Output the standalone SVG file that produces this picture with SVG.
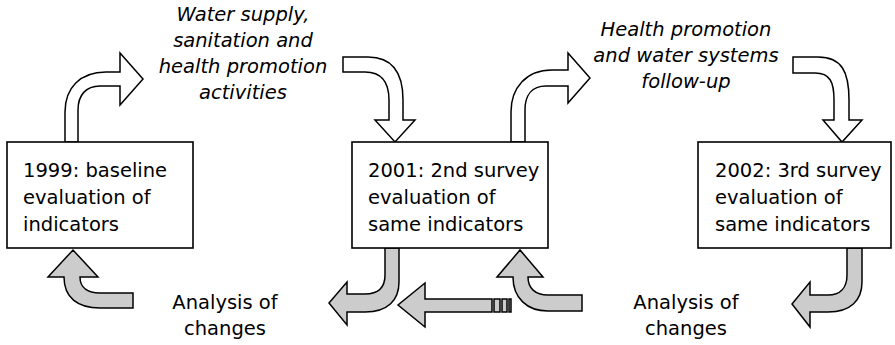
<svg xmlns="http://www.w3.org/2000/svg" width="895" height="345" viewBox="0 0 895 345">
<style>
.box{fill:#fff;stroke:#000;stroke-width:1.6}
.wa{fill:#fff;stroke:#000;stroke-width:1.5;stroke-linejoin:miter}
.ga{fill:#cccccc;stroke:#000;stroke-width:1.5;stroke-linejoin:miter}
.t{font-family:"DejaVu Sans",sans-serif;font-size:19.5px;fill:#000}
.it{font-family:"DejaVu Sans",sans-serif;font-style:italic;font-size:19.5px;fill:#000;text-anchor:middle}
.c{font-family:"DejaVu Sans",sans-serif;font-size:19.5px;fill:#000;text-anchor:middle}
</style>
<rect width="895" height="345" fill="#fff"/>
<g id="connectors">
  <path class="wa" d="M65,142 V112 C65,88 80,72 106,72 H120 V53 L143,79 L120,105 V86 H100 C86,86 78,95 78,110 V142 Z"/>
  <path class="wa" d="M343,57 H368 C392,57 403,72 403,100 V120 H415 L395,142 L375,120 H389 V100 C389,82 382,72 365,72 H343 Z"/>
  <path class="wa" d="M511,142 V112 C511,88 526,70 552,70 H568 V53 L590,78 L568,103 V86 H546 C532,86 525,95 525,110 V142 Z"/>
  <path class="wa" d="M793,57 H818 C842,57 849,72 849,100 V120 H862 L842,142 L823,120 H834 V100 C834,82 830,73 815,73 H793 Z"/>
  <path class="ga" d="M133,293 H100 C88,293 80,288 80,277 H98 L73,250 L48,277 H64 C64,298 78,308 100,308 H133 Z"/>
  <path class="ga" d="M385,248 V275 C385,288 378,294 365,294 H347 V282 L329,303 L347,325 V312 H365 C388,312 399,300 399,282 V248 Z"/>
  <path class="ga" d="M492,299 H425 V283 L398,305 L425,327 V312 H492 Z"/>
  <rect class="ga" x="494" y="299" width="6" height="13"/>
  <rect class="ga" x="502" y="299" width="5" height="13"/>
  <rect class="ga" x="509" y="299" width="2" height="13"/>
  <path class="ga" d="M582,295 H548 C535,295 528,288 528,277 H543 L520,250 L497,277 H513 C513,298 527,311 548,311 H582 Z"/>
  <path class="ga" d="M847,248 V275 C847,288 840,295 828,295 H810 V282 L792,304 L810,327 V312 H828 C851,312 862,300 862,282 V248 Z"/>
</g>
<g id="box1999">
  <rect class="box" x="7" y="142" width="186" height="106"/>
  <text class="t" x="23" y="177">1999: baseline</text>
  <text class="t" x="23" y="204">evaluation of</text>
  <text class="t" x="23" y="231">indicators</text>
</g>
<g id="box2001">
  <rect class="box" x="352" y="142" width="196" height="106"/>
  <text class="t" x="368" y="177">2001: 2nd survey</text>
  <text class="t" x="368" y="204">evaluation of</text>
  <text class="t" x="368" y="231">same indicators</text>
</g>
<g id="box2002">
  <rect class="box" x="698" y="142" width="193" height="106"/>
  <text class="t" x="715" y="177">2002: 3rd survey</text>
  <text class="t" x="715" y="204">evaluation of</text>
  <text class="t" x="715" y="231">same indicators</text>
</g>
<g id="label-activities">
  <text class="it" x="243" y="21">Water supply,</text>
  <text class="it" x="243" y="47">sanitation and</text>
  <text class="it" x="243" y="73">health promotion</text>
  <text class="it" x="243" y="99">activities</text>
</g>
<g id="label-followup">
  <text class="it" x="686" y="36">Health promotion</text>
  <text class="it" x="686" y="62">and water systems</text>
  <text class="it" x="686" y="88">follow-up</text>
</g>
<g id="label-analysis1">
  <text class="c" x="225" y="309">Analysis of</text>
  <text class="c" x="225" y="335">changes</text>
</g>
<g id="label-analysis2">
  <text class="c" x="686" y="309">Analysis of</text>
  <text class="c" x="686" y="335">changes</text>
</g>
</svg>
